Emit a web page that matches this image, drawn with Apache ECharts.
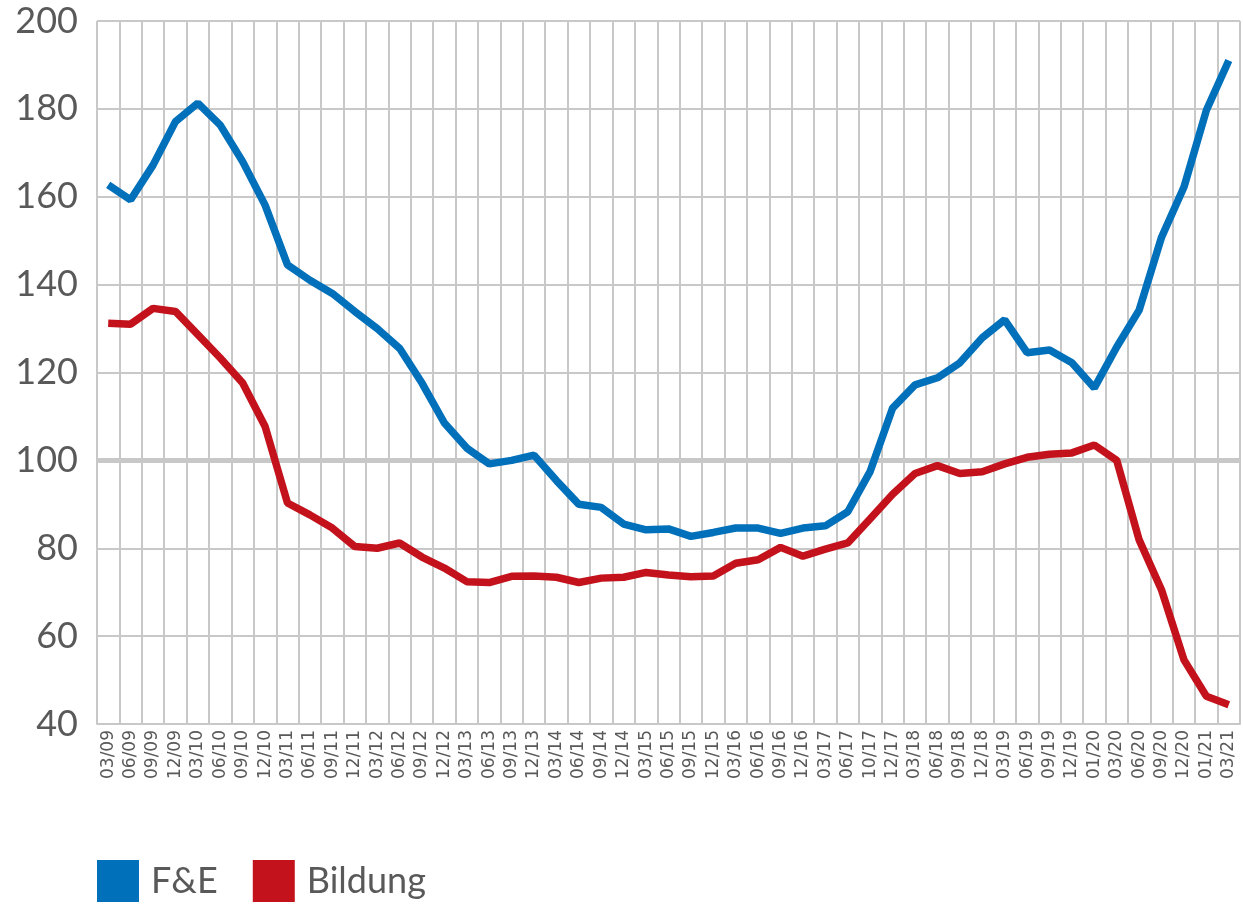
<!DOCTYPE html>
<html>
<head>
<meta charset="utf-8">
<script src="https://cdn.jsdelivr.net/npm/echarts@6/dist/echarts.min.js"></script>
<style>
html,body{margin:0;padding:0;background:#fff;}
#chart{width:1243px;height:904px;}
</style>
</head>
<body>
<div id="chart"></div>
<script>
const categories = ["03/09","06/09","09/09","12/09","03/10","06/10","09/10","12/10","03/11","06/11","09/11","12/11","03/12","06/12","09/12","12/12","03/13","06/13","09/13","12/13","03/14","06/14","09/14","12/14","03/15","06/15","09/15","12/15","03/16","06/16","09/16","12/16","03/17","06/17","10/17","12/17","03/18","06/18","09/18","12/18","03/19","06/19","09/19","12/19","01/20","03/20","06/20","09/20","12/20","01/21","03/21"];
const fuE = [162.7,159.3,167.2,177.1,181.3,176.3,168,158.1,144.5,141,138,133.9,130,125.5,117.6,108.5,102.8,99.2,100,101.2,95.4,90,89.3,85.5,84.2,84.4,82.7,83.6,84.6,84.6,83.4,84.6,85.1,88.3,97.5,111.9,117.2,118.8,122.2,127.9,132,124.5,125.1,122.2,116.5,125.8,134.2,150.8,162.2,179.7,191];
const bildung = [131.2,131,134.6,133.9,128.6,123.3,117.6,107.7,90.3,87.6,84.6,80.4,80,81.2,78,75.5,72.4,72.2,73.6,73.7,73.4,72.2,73.2,73.4,74.5,73.9,73.5,73.7,76.6,77.4,80.2,78.2,79.8,81.2,86.7,92.3,97,98.8,97,97.4,99.2,100.7,101.4,101.7,103.5,100,81.9,70.5,54.6,46.3,44.4];
const seriesNames = ["F&E","Bildung"];
const referenceValue = 100;

const chart = echarts.init(document.getElementById('chart'), null, {renderer:'canvas'});
const gridColor = '#c8c8c8';
const textColor = '#595959';
chart.setOption({
  animation:false,
  backgroundColor:'#ffffff',
  grid:{left:97,right:3,top:21,bottom:180,containLabel:false},
  legend:{
    data:seriesNames,
    left:97, top:860, padding:0,
    icon:'rect', itemWidth:42, itemHeight:42, itemGap:35,
    textStyle:{fontFamily:'Lato', fontSize:36, color:textColor, padding:[0,0,0,7]}
  },
  xAxis:{
    type:'category', data:categories, boundaryGap:true,
    axisLine:{show:true, lineStyle:{color:gridColor, width:2}},
    axisTick:{show:false},
    splitLine:{show:true, interval:0, lineStyle:{color:gridColor, width:2}},
    axisLabel:{interval:0, rotate:90, margin:6, fontFamily:'DejaVu Sans', fontSize:17, color:textColor}
  },
  yAxis:{
    type:'value', min:40, max:200, interval:20,
    axisLine:{show:false}, axisTick:{show:false},
    splitLine:{show:true, lineStyle:{color:gridColor, width:2}},
    axisLabel:{margin:19, fontFamily:'Lato', fontSize:36, color:textColor}
  },
  series:[
    {name:'ref', type:'line', data:[], z:1, silent:true,
     markLine:{silent:true, z:1, symbol:'none', label:{show:false},
       emphasis:{disabled:true},
       lineStyle:{color:gridColor, width:5, type:'solid'},
       data:[{yAxis:referenceValue}]}},
    {name:seriesNames[0], type:'line', data:fuE, symbol:'none', z:3,
     itemStyle:{color:'#0070BA'}, lineStyle:{color:'#0070BA', width:7.5}},
    {name:seriesNames[1], type:'line', data:bildung, symbol:'none', z:3,
     itemStyle:{color:'#C3121B'}, lineStyle:{color:'#C3121B', width:7.5}}
  ]
});
</script>
</body>
</html>
